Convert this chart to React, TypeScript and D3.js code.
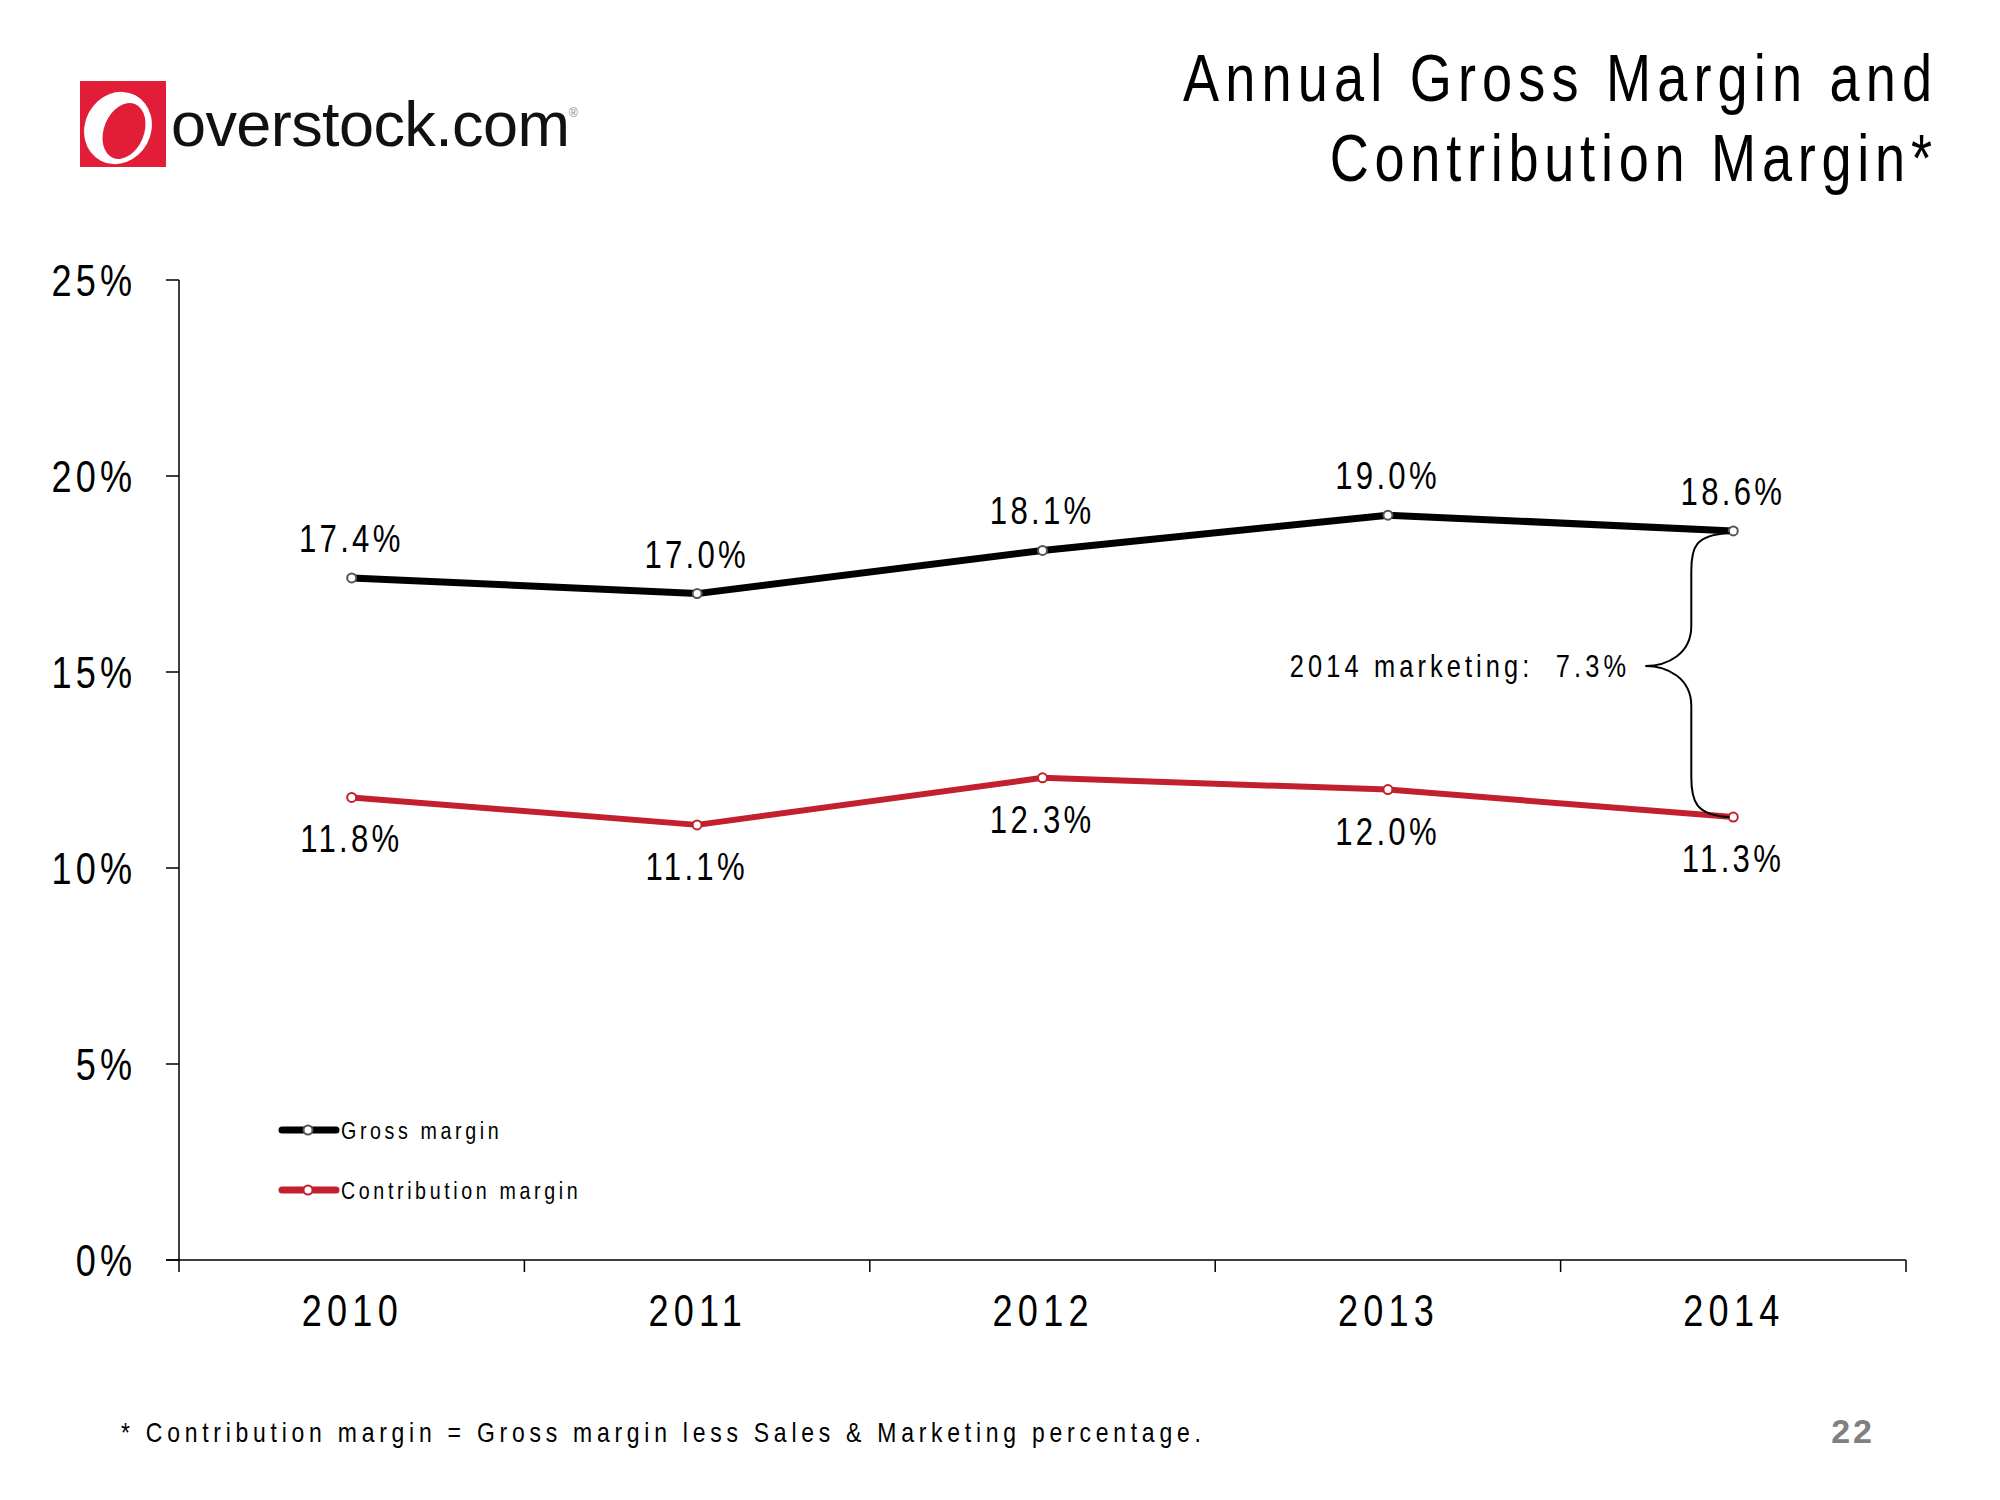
import React from "react";
import * as d3 from "d3";

const years = ["2010", "2011", "2012", "2013", "2014"];
const grossMargin = [17.4, 17.0, 18.1, 19.0, 18.6];
const contributionMargin = [11.8, 11.1, 12.3, 12.0, 11.3];
const yTickValues = [0, 5, 10, 15, 20, 25];
const titleLines = ["Annual Gross Margin and", "Contribution Margin*"];
const seriesNames = ["Gross margin", "Contribution margin"];
const annotationText = "2014 marketing:  7.3%";
const footnote = "* Contribution margin = Gross margin less Sales & Marketing percentage.";
const pageNumber = "22";

const FONT = "'Liberation Sans',Arial,sans-serif";
const RED = "#c3202f";
const LOGO_RED = "#e21d38";
const SX = 0.82;

type CTProps = {
  x: number;
  y: number;
  size: number;
  ls: number;
  anchor?: "start" | "middle" | "end";
  fill?: string;
  weight?: string;
  pre?: boolean;
  children: React.ReactNode;
};

// condensed text: horizontally squeezed, letter-spaced
function CText({ x, y, size, ls, anchor = "start", fill = "#000", weight, pre, children }: CTProps) {
  const shift = anchor === "end" ? ls * SX : anchor === "middle" ? (ls * SX) / 2 : 0;
  return (
    <g transform={`translate(${x + shift},${y}) scale(${SX},1)`}>
      <text
        x={0}
        y={0}
        textAnchor={anchor}
        fontSize={size}
        letterSpacing={ls}
        fill={fill}
        fontWeight={weight}
        style={pre ? { whiteSpace: "pre" } : undefined}
      >
        {children}
      </text>
    </g>
  );
}

export default function App() {
  const x = d3.scaleBand<string>().domain(years).range([179, 1906]);
  const y = d3.scaleLinear().domain([0, 25]).range([1260, 280]);
  const cx = (d: string) => (x(d) as number) + x.bandwidth() / 2;

  const line = d3
    .line<number>()
    .x((_, i) => cx(years[i]))
    .y((v) => y(v));

  const grossPath = line(grossMargin) || "";
  const contribPath = line(contributionMargin) || "";

  const boundaries = [...years.map((d) => x(d) as number), x.range()[1]];

  // brace between 2014 gross and contribution
  const last = years.length - 1;
  const xe = cx(years[last]);
  const yTop = y(grossMargin[last]);
  const yBot = y(contributionMargin[last]);
  const xv = xe - 42;
  const xt = xe - 88;
  const ym = (yTop + yBot) / 2 - 8;
  const brace = [
    `M${xe - 4},${yTop + 2}`,
    `C${xv + 4},${yTop + 4} ${xv},${yTop + 16} ${xv},${yTop + 40}`,
    `L${xv},${ym - 40}`,
    `C${xv},${ym - 12} ${xt + 22},${ym} ${xt},${ym}`,
    `C${xt + 22},${ym} ${xv},${ym + 12} ${xv},${ym + 40}`,
    `L${xv},${yBot - 40}`,
    `C${xv},${yBot - 16} ${xv + 4},${yBot - 2} ${xe - 4},${yBot}`,
  ].join(" ");

  return (
    <svg
      width={2000}
      height={1500}
      style={{ position: "absolute", left: 0, top: 0, background: "#fff" }}
      fontFamily={FONT}
    >
      <rect width={2000} height={1500} fill="#fff" />

      {/* Logo */}
      <defs>
        <clipPath id="logoClip">
          <rect x={80} y={81} width={86} height={86} />
        </clipPath>
      </defs>
      <rect x={80} y={81} width={86} height={86} fill={LOGO_RED} />
      <g clipPath="url(#logoClip)">
        <ellipse cx={118} cy={128} rx={33} ry={37} fill="#fff" transform="rotate(28 118 128)" />
        <ellipse cx={124} cy={131} rx={20} ry={29} fill={LOGO_RED} transform="rotate(22 124 131)" />
      </g>
      <text x={171} y={146} fontSize={63} fill="#111" letterSpacing={-0.6}>
        overstock.com
      </text>
      <text x={569} y={117} fontSize={12} fill="#888">
        ®
      </text>

      {/* Title */}
      {titleLines.map((t, i) => (
        <CText key={t} x={1932} y={101 + i * 80} anchor="end" size={66} ls={i === 0 ? 7.5 : 7}>
          {t}
        </CText>
      ))}

      {/* Axes */}
      <line x1={179} x2={179} y1={y(25)} y2={y(0)} stroke="#000" strokeWidth={1.5} />
      <line x1={166} x2={x.range()[1]} y1={y(0)} y2={y(0)} stroke="#000" strokeWidth={1.5} />
      {yTickValues.map((v) => (
        <g key={v}>
          <line x1={166} x2={179} y1={y(v)} y2={y(v)} stroke="#000" strokeWidth={1.5} />
          <CText x={132} y={y(v) + 16} anchor="end" size={44} ls={5}>
            {`${v}%`}
          </CText>
        </g>
      ))}
      {boundaries.map((b, i) => (
        <line key={i} x1={b} x2={b} y1={y(0)} y2={y(0) + 12} stroke="#000" strokeWidth={1.5} />
      ))}
      {years.map((d) => (
        <CText key={d} x={cx(d) - 2} y={1326} anchor="middle" size={44} ls={6.4}>
          {d}
        </CText>
      ))}

      {/* Lines */}
      <path d={grossPath} fill="none" stroke="#000" strokeWidth={7} strokeLinejoin="round" />
      <path d={contribPath} fill="none" stroke={RED} strokeWidth={6} strokeLinejoin="round" />
      {grossMargin.map((v, i) => (
        <circle key={`g${i}`} cx={cx(years[i])} cy={y(v)} r={4.5} fill="#fff" stroke="#555" strokeWidth={2} />
      ))}
      {contributionMargin.map((v, i) => (
        <circle key={`c${i}`} cx={cx(years[i])} cy={y(v)} r={4.5} fill="#fff" stroke={RED} strokeWidth={2} />
      ))}

      {/* Data labels */}
      {grossMargin.map((v, i) => (
        <CText key={`gl${i}`} x={cx(years[i]) - 2} y={y(v) - 26} anchor="middle" size={38} ls={4}>
          {`${v.toFixed(1)}%`}
        </CText>
      ))}
      {contributionMargin.map((v, i) => (
        <CText key={`cl${i}`} x={cx(years[i]) - 2} y={y(v) + 55} anchor="middle" size={38} ls={4}>
          {`${v.toFixed(1)}%`}
        </CText>
      ))}

      {/* Brace annotation */}
      <path d={brace} fill="none" stroke="#000" strokeWidth={2} />
      <CText x={1626} y={ym + 11} anchor="end" size={31} ls={5} pre>
        {annotationText}
      </CText>

      {/* Legend */}
      {seriesNames.map((n, i) => {
        const ly = 1130 + i * 60;
        const col = i === 0 ? "#000" : RED;
        return (
          <g key={n}>
            <line x1={282} x2={336} y1={ly} y2={ly} stroke={col} strokeWidth={7} strokeLinecap="round" />
            <circle cx={308} cy={ly} r={4.5} fill="#fff" stroke={i === 0 ? "#555" : RED} strokeWidth={2} />
            <CText x={341} y={ly + 9} size={24} ls={4.4}>
              {n}
            </CText>
          </g>
        );
      })}

      {/* Footnote */}
      <CText x={121} y={1442} size={28} ls={5.8}>
        {footnote}
      </CText>
      <text x={1875} y={1443} textAnchor="end" fontWeight="bold" fontSize={34} letterSpacing={3} fill="#808080">
        {pageNumber}
      </text>
    </svg>
  );
}
